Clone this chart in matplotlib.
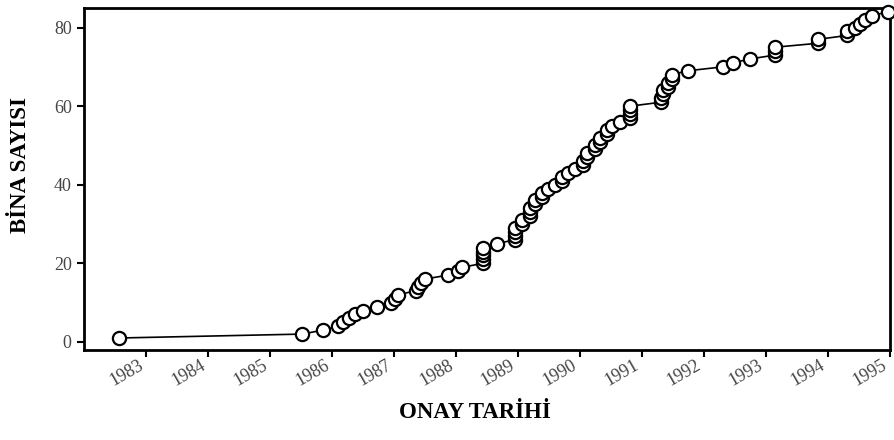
import matplotlib
matplotlib.use('Agg')
import matplotlib.pyplot as plt
import matplotlib.transforms as mtransforms

# Approval dates (decimal years) and cumulative building counts
dates = [1982.56, 1985.52, 1985.85, 1986.10, 1986.18, 1986.27, 1986.37, 1986.50,
         1986.73, 1986.95, 1987.02, 1987.06, 1987.35, 1987.39, 1987.44, 1987.50,
         1987.87, 1988.03, 1988.10,
         1988.44, 1988.44, 1988.44, 1988.44, 1988.44,
         1988.66,
         1988.95, 1988.95, 1988.95, 1988.95,
         1989.06, 1989.06, 1989.19, 1989.19, 1989.19, 1989.27, 1989.27,
         1989.39, 1989.39, 1989.48, 1989.60, 1989.71, 1989.71, 1989.81, 1989.92,
         1990.05, 1990.05, 1990.11, 1990.11, 1990.24, 1990.24, 1990.32, 1990.32,
         1990.44, 1990.44, 1990.52, 1990.65,
         1990.81, 1990.81, 1990.81, 1990.81,
         1991.31, 1991.31, 1991.35, 1991.35, 1991.42, 1991.42, 1991.48, 1991.48,
         1991.74, 1992.31, 1992.47, 1992.74,
         1993.15, 1993.15, 1993.15,
         1993.84, 1993.84, 1994.32, 1994.32,
         1994.44, 1994.52, 1994.61, 1994.71, 1994.97]
counts = [1, 2, 3, 4, 5, 6, 7, 8, 9, 10, 11, 12, 13, 14, 15, 16, 17, 18, 19,
          20, 21, 22, 23, 24, 25, 26, 27, 28, 29, 30, 31, 32, 33, 34, 35, 36,
          37, 38, 39, 40, 41, 42, 43, 44, 45, 46, 47, 48, 49, 50, 51, 52,
          53, 54, 55, 56, 57, 58, 59, 60, 61, 62, 63, 64, 65, 66, 67, 68,
          69, 70, 71, 72, 73, 74, 75, 76, 77, 78, 79, 80, 81, 82, 83, 84]
years = [1983, 1984, 1985, 1986, 1987, 1988, 1989, 1990, 1991, 1992, 1993, 1994, 1995]
yticks = [0, 20, 40, 60, 80]

plt.rcParams['font.family'] = ['Liberation Serif', 'DejaVu Serif']

fig = plt.figure(figsize=(8.95, 4.4), dpi=100)
ax = fig.add_axes([0.094, 0.205, 0.9, 0.777])

ax.plot(dates, counts, color='black', linewidth=1.2, marker='o', markersize=9.5,
        markerfacecolor='white', markeredgecolor='black', markeredgewidth=1.6,
        clip_on=False, zorder=3)

ax.set_xlim(1982, 1995)
ax.set_ylim(-2, 85)
ax.set_xticks(years)
ax.set_xticklabels([str(y) for y in years], rotation=30, ha='right',
                   rotation_mode='anchor', fontsize=13, color='#444444')
ax.set_yticks(yticks)
ax.set_yticklabels([str(y) for y in yticks], fontsize=13, color='#444444')
ax.tick_params(direction='out', length=5, width=1.5, pad=4)
ax.tick_params(axis='x', pad=0)
for s in ax.spines.values():
    s.set_linewidth(2)

# nudge the slanted year labels a little left of their ticks
shift = mtransforms.ScaledTranslation(-6 / 72, 0, fig.dpi_scale_trans)
for lbl in ax.get_xticklabels():
    lbl.set_transform(lbl.get_transform() + shift)

ax.set_xlabel('ONAY TARİHİ', fontsize=16.5, fontweight='bold')
ax.set_ylabel('BİNA SAYISI', fontsize=16.5, fontweight='bold')
ax.xaxis.set_label_coords(0.485, -0.152)
ax.yaxis.set_label_coords(-0.066, 0.54)

fig.savefig('out.png', dpi=100)
